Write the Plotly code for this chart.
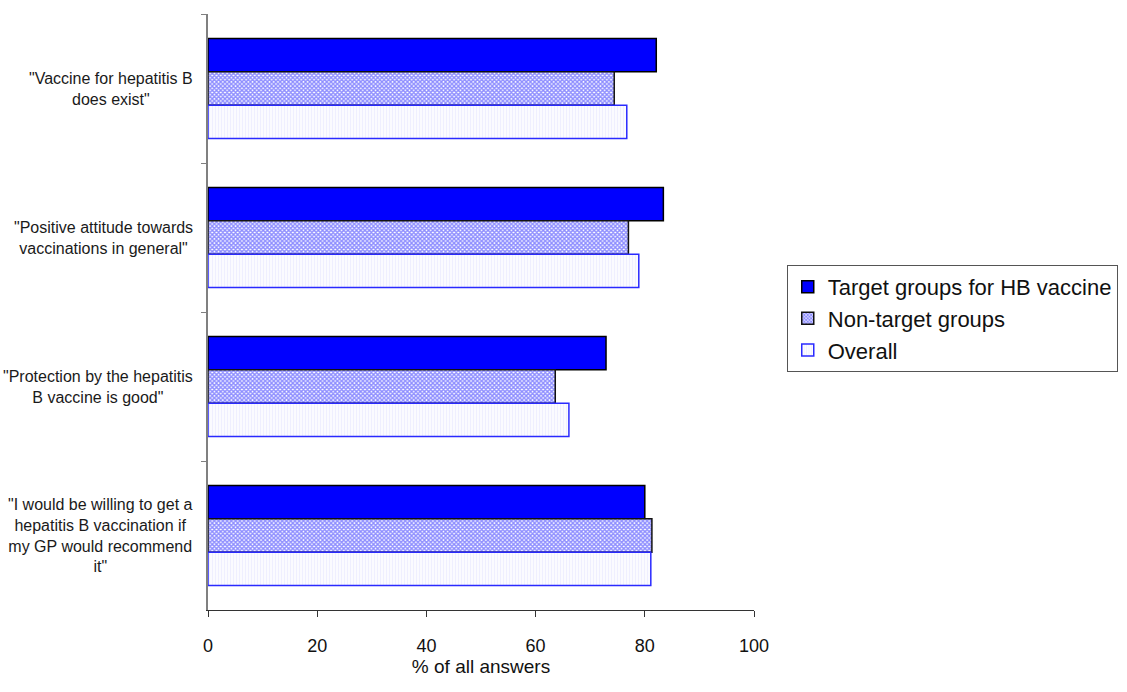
import plotly.graph_objects as go

categories = [
    "\"Vaccine for hepatitis B<br>does exist\"",
    "\"Positive attitude towards<br>vaccinations in general\"",
    "\"Protection by the hepatitis<br>B vaccine is good\"",
    "\"I would be willing to get a<br>hepatitis B vaccination if<br>my GP would recommend<br>it\"",
]
series_names = ["Target groups for HB vaccine", "Non-target groups", "Overall"]
target_vals = [82.1, 83.4, 72.9, 80.0]
nontarget_vals = [74.4, 77.0, 63.6, 81.3]
overall_vals = [76.7, 78.9, 66.1, 81.1]
x_ticks = [0, 20, 40, 60, 80, 100]

FONT = "Liberation Sans, Arial, sans-serif"

fig = go.Figure()
fig.add_trace(go.Bar(
    name=series_names[0], y=categories, x=target_vals, orientation="h",
    marker=dict(color="#0000ff", line=dict(color="#000000", width=1.5)),
))
fig.add_trace(go.Bar(
    name=series_names[1], y=categories, x=nontarget_vals, orientation="h",
    marker=dict(color="#ffffff", line=dict(color="#111111", width=1.5),
                pattern=dict(shape="x", fgcolor="#1a1aff", bgcolor="#ffffff",
                             size=3, solidity=0.7)),
))
fig.add_trace(go.Bar(
    name=series_names[2], y=categories, x=overall_vals, orientation="h",
    marker=dict(color="#ffffff", line=dict(color="#2a2aff", width=1.5),
                pattern=dict(shape="|", fgcolor="#e0e0ff", bgcolor="#fbfbff",
                             size=3, solidity=0.3)),
))

for c in categories:
    fig.add_annotation(
        x=0, xref="paper", xanchor="right", xshift=-13,
        y=c, yref="y", yanchor="middle",
        text=c, showarrow=False, align="center",
        font=dict(family=FONT, size=16, color="#1a1a1a"),
    )

fig.update_layout(
    width=1127, height=692,
    margin=dict(l=208, r=373, t=14, b=82, autoexpand=False),
    paper_bgcolor="white", plot_bgcolor="white",
    barmode="group", bargap=0.33, bargroupgap=0,
    font=dict(family=FONT, color="#111111"),
    showlegend=True,
    legend=dict(
        x=1.06, xanchor="left", y=0.579, yanchor="top",
        traceorder="normal",
        bordercolor="#555555", borderwidth=1, bgcolor="white",
        font=dict(family=FONT, size=22, color="#111111"),
        itemwidth=30,
        entrywidth=330, entrywidthmode="pixels",
    ),
    xaxis=dict(
        range=[0, 100], tickvals=x_ticks, showgrid=False, zeroline=False,
        showline=True, linecolor="#333333", linewidth=1,
        ticks="outside", ticklen=6, tickcolor="#333333",
        ticklabelstandoff=13,
        tickfont=dict(family=FONT, size=18, color="#111111"),
        title=dict(text="% of all answers", standoff=5,
                   font=dict(family=FONT, size=19, color="#111111")),
    ),
    yaxis=dict(
        autorange="reversed", showgrid=False, zeroline=False,
        showline=True, linecolor="#808080", linewidth=1.5,
        ticks="outside", ticklen=5, tickcolor="#808080",
        tickson="boundaries", showticklabels=False,
    ),
)

fig.write_html(
    "out.html",
    config={"displayModeBar": False},
    post_script="document.body.style.margin='0';document.body.style.overflow='hidden';",
)
